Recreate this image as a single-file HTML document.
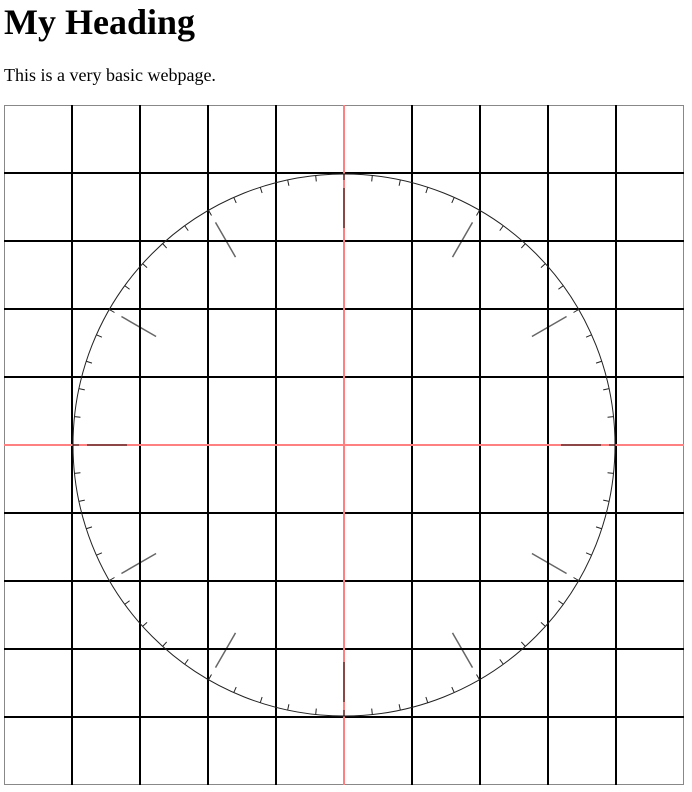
<!DOCTYPE html>
<html><head><meta charset="utf-8"><style>
body{margin:0;width:692px;height:792px;overflow:hidden;background:#fff;font-family:"Liberation Serif",serif;position:relative}
h1{position:absolute;left:4px;top:0;margin:0;font-size:36px;line-height:44px;font-weight:bold}
p{position:absolute;left:4px;top:64px;margin:0;font-size:18px;line-height:22px}
svg{position:absolute;left:0;top:0}
</style></head><body>
<h1>My Heading</h1>
<p>This is a very basic webpage.</p>
<svg id="c" width="692" height="792"></svg>
<script>
const gridCells=[0,1,2,3,4,5,6,7,8,9,10];
const minuteTicks=Array.from({length:60},(_,i)=>i);
const hourMarks=[0,1,2,3,4,5,6,7,8,9,10,11];
const ns="http://www.w3.org/2000/svg",s=document.getElementById('c');
const X0=4,Y0=105,CELL=68,CX=344,CY=445,R=271;
function mk(t,a){const e=document.createElementNS(ns,t);for(const k in a)e.setAttribute(k,a[k]);s.appendChild(e);return e;}
const b=mk('rect',{x:4.5,y:105.5,width:679,height:679,fill:'none',stroke:'#888','stroke-width':1});


gridCells.forEach(i=>{
 if(i===0||i===10)return;
 const v=mk('line',{x1:X0+i*CELL,y1:Y0,x2:X0+i*CELL,y2:Y0+680,stroke:'#000','stroke-width':2});
 
 
 const h=mk('line',{x1:X0,y1:Y0+i*CELL,x2:X0+680,y2:Y0+i*CELL,stroke:'#000','stroke-width':2});
 
 
});
const rv=mk('line',{x1:CX,y1:Y0,x2:CX,y2:Y0+680,stroke:'#ff8080','stroke-width':2});


const rh=mk('line',{x1:X0,y1:CY,x2:X0+680,y2:CY,stroke:'#ff8080','stroke-width':2});


const c=mk('circle',{cx:CX,cy:CY,r:R,fill:'none',stroke:'#222','stroke-width':1});


minuteTicks.forEach(m=>{
 const a=m/60*2*Math.PI;
 const t=mk('line',{x1:CX+Math.sin(a)*R,y1:CY-Math.cos(a)*R,x2:CX+Math.sin(a)*(R-6),y2:CY-Math.cos(a)*(R-6),stroke:'#222','stroke-width':1});
 
 
});
hourMarks.forEach(hh=>{
 const a=hh/12*2*Math.PI;
 const t=mk('line',{x1:CX+Math.sin(a)*(R-14),y1:CY-Math.cos(a)*(R-14),x2:CX+Math.sin(a)*(R-54),y2:CY-Math.cos(a)*(R-54),stroke:'rgba(0,0,0,0.6)','stroke-width':1.5});
 
 
});
</script>
</body></html>
